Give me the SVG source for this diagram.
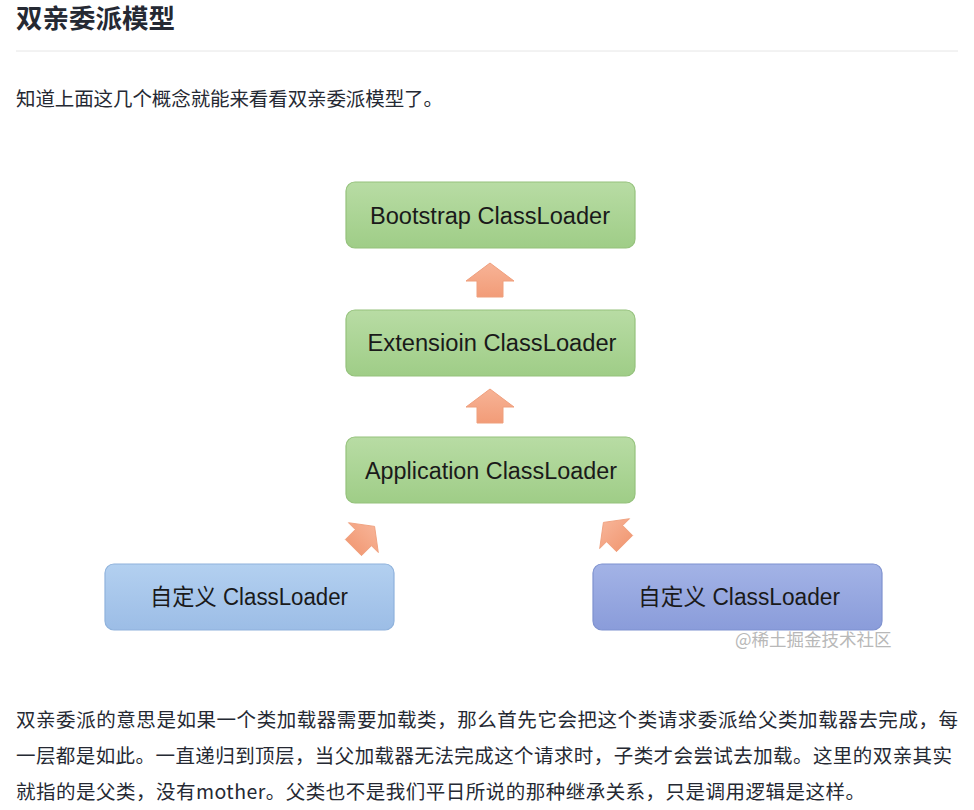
<svg xmlns="http://www.w3.org/2000/svg" width="974" height="810" viewBox="0 0 974 810">
<defs>
<style>
.title{font-family:"Noto Sans CJK SC","Noto Sans",sans-serif;font-weight:bold;font-size:26.5px;fill:#252933}
.body{font-family:"Noto Sans CJK SC","Noto Sans",sans-serif;font-size:19.5px;fill:#252933}
.lbl{font-family:"Liberation Sans","Noto Sans CJK SC",sans-serif;font-size:23px;fill:#1a1a1a;text-anchor:middle}
.wm{font-family:"Noto Sans CJK SC","Noto Sans",sans-serif;font-size:17.5px;fill:#b8b8b8}
.green{fill:url(#gGreen);stroke:#95c27c;stroke-width:1.2}
.blue{fill:url(#gBlue);stroke:#8fb2dc;stroke-width:1.2}
.purple{fill:url(#gPurple);stroke:#7f92cf;stroke-width:1.2}
.arrow{fill:url(#gArrow);stroke:#ef9f7d;stroke-width:1}
</style>
<linearGradient id="gGreen" x1="0" y1="0" x2="0" y2="1"><stop offset="0" stop-color="#b8dca4"/><stop offset="1" stop-color="#9fcd87"/></linearGradient>
<linearGradient id="gBlue" x1="0" y1="0" x2="0" y2="1"><stop offset="0" stop-color="#b3d0f0"/><stop offset="1" stop-color="#9cbde6"/></linearGradient>
<linearGradient id="gPurple" x1="0" y1="0" x2="0" y2="1"><stop offset="0" stop-color="#a3b3e6"/><stop offset="1" stop-color="#8a9cda"/></linearGradient>
<linearGradient id="gArrow" x1="0" y1="0" x2="0" y2="1"><stop offset="0" stop-color="#f7b396"/><stop offset="1" stop-color="#f29c78"/></linearGradient>
<path id="up" d="M0,-17 L24,1 L13,1 L13,17 L-13,17 L-13,1 L-24,1 Z"/>
</defs>
<rect width="974" height="810" fill="#ffffff"/>
<text class="title" x="16" y="28">双亲委派模型</text>
<line x1="16" y1="51" x2="958" y2="51" stroke="#e6e6e6" stroke-width="1"/>
<text class="body" x="16" y="106" textLength="427" lengthAdjust="spacing">知道上面这几个概念就能来看看双亲委派模型了。</text>

<g id="connectors">
<use href="#up" class="arrow" transform="translate(490,280)"/>
<use href="#up" class="arrow" transform="translate(490,406)"/>
<use href="#up" class="arrow" transform="translate(364,537) rotate(45) scale(0.88)"/>
<use href="#up" class="arrow" transform="translate(614,533) rotate(-45) scale(0.88)"/>
</g>

<g id="bootstrap">
<rect class="green" x="346" y="182" width="289" height="66" rx="9"/>
<text class="lbl" x="490" y="224" textLength="240" lengthAdjust="spacingAndGlyphs">Bootstrap ClassLoader</text>
</g>
<g id="extension">
<rect class="green" x="346" y="310" width="289" height="66" rx="9"/>
<text class="lbl" x="492" y="351" textLength="249" lengthAdjust="spacingAndGlyphs">Extensioin ClassLoader</text>
</g>
<g id="application">
<rect class="green" x="346" y="437" width="289" height="66" rx="9"/>
<text class="lbl" x="491" y="479" textLength="252" lengthAdjust="spacingAndGlyphs">Application ClassLoader</text>
</g>
<g id="custom-left">
<rect class="blue" x="105" y="564" width="289" height="66" rx="9"/>
<text class="lbl" x="249" y="605" textLength="198" lengthAdjust="spacingAndGlyphs">自定义 ClassLoader</text>
</g>
<g id="custom-right">
<rect class="purple" x="593" y="564" width="289" height="66" rx="9"/>
<text class="lbl" x="739" y="605" textLength="202" lengthAdjust="spacingAndGlyphs">自定义 ClassLoader</text>
</g>
<text class="wm" x="735" y="646">@稀土掘金技术社区</text>

<text class="body" x="16" y="727" textLength="942" lengthAdjust="spacing">双亲委派的意思是如果一个类加载器需要加载类，那么首先它会把这个类请求委派给父类加载器去完成，每</text>
<text class="body" x="16" y="763" textLength="936" lengthAdjust="spacing">一层都是如此。一直递归到顶层，当父加载器无法完成这个请求时，子类才会尝试去加载。这里的双亲其实</text>
<text class="body" x="16" y="799" textLength="849" lengthAdjust="spacing">就指的是父类，没有mother。父类也不是我们平日所说的那种继承关系，只是调用逻辑是这样。</text>
</svg>
